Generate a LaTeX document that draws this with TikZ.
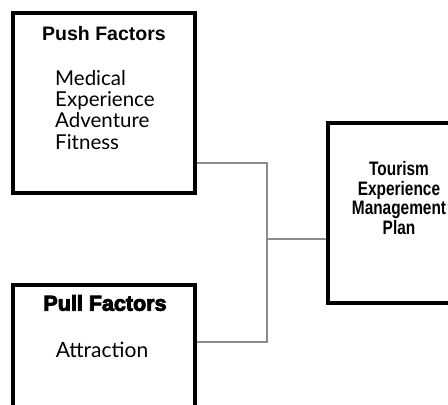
\documentclass[tikz,border=0pt]{standalone}
\usepackage{fontspec}
\setmainfont{Lato}
\newfontfamily\headfont{Liberation Sans}
\newfontfamily\heavyfont{Liberation Sans Bold}[FakeBold=4]
\usetikzlibrary{calc}

\begin{document}
\begin{tikzpicture}[x=1pt,y=-1pt,
	box/.style={draw=black,line width=4pt,inner sep=0pt},
	link/.style={draw=black!45,line width=1.6pt},
	head/.style={font=\headfont\bfseries\fontsize{19.5}{21}\selectfont,inner sep=0pt},
	items/.style={font=\fontsize{20.5}{21.3}\selectfont,align=left,inner sep=0pt},
	plantext/.style={font=\headfont\bfseries\fontsize{19.5}{19.8}\selectfont,align=center,inner sep=0pt,xscale=0.79}]
			%%%%% START %%%%%
			\def\boxwd{182pt}
			\def\boxht{180pt}
			\useasboundingbox (0,0) rectangle (448,405);
			\clip (0,0) rectangle (448,405);

			% push box
			\node[box,minimum width=\boxwd,minimum height=\boxht] (push) at (104,103) {};
			\node[head] (pushhead) at (104,34) {Push Factors};
			\node[items,anchor=north west] (pushlist) at (55,70) {Medical\\Experience\\Adventure\\Fitness};

			% pull box, runs off the bottom
			\node[box,minimum width=\boxwd,minimum height=126pt] (pull) at (104,348) {};
			\node[head,font=\heavyfont\fontsize{21.5}{22}\selectfont] (pullhead) at (105,303) {Pull Factors};
			\node[items,font=\fontsize{21}{21}\selectfont] (pulllist) at (102,350) {Attraction};

			% plan box, runs off the right
			\node[box,minimum width=134pt,minimum height=\boxht] (plan) at (395,213) {};
			\node[plantext] (plantext) at (399,198) {Tourism\\Experience\\Management\\Plan};

			% connectors
			\coordinate (jn) at (267,239);
			\draw[link] ([yshift=-60pt]push.east) -| (jn);
			\draw[link] ([yshift=6pt]pull.east) -| (jn);
			\draw[link] (jn) -- (jn -| plan.west);
			%%%%% END %%%%%
\end{tikzpicture}
\end{document}
